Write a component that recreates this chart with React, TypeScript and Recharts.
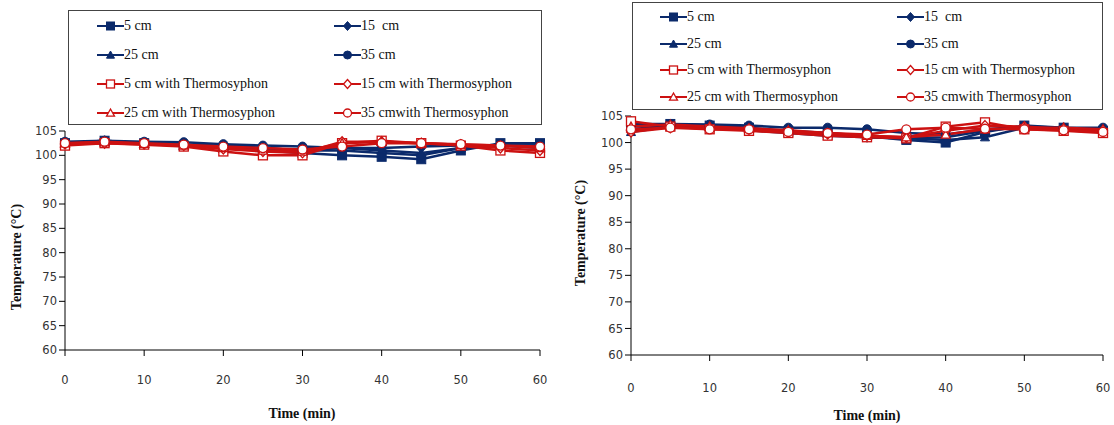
import React from "react";
import { LineChart, Line, XAxis, YAxis, Legend } from "recharts";

const NAVY = "#0b2a6b";
const RED = "#cc1111";

const TIME = [0, 5, 10, 15, 20, 25, 30, 35, 40, 45, 50, 55, 60];
const X_TICKS = [0, 10, 20, 30, 40, 50, 60];
const Y_TICKS = [60, 65, 70, 75, 80, 85, 90, 95, 100, 105];

// left panel
const L_5 = [102.5, 103, 102.5, 102, 101.5, 101, 100.5, 100, 99.7, 99.2, 101, 102.5, 102.5];
const L_15 = [102.5, 103, 102.5, 102, 101.8, 101.5, 101, 101, 100.5, 100, 101.5, 102, 102];
const L_25 = [102.5, 102.8, 102.5, 102.2, 102, 101.5, 101, 101.5, 101, 100.5, 101.5, 102, 101.5];
const L_35 = [102.8, 103, 102.8, 102.7, 102.3, 102, 101.8, 101.5, 101.5, 101.8, 102, 102, 102];
const L_5T = [102, 102.5, 102.2, 101.8, 100.8, 100, 100, 102.5, 103, 102.5, 102, 101, 100.5];
const L_15T = [102.3, 102.5, 102.3, 102, 101.3, 100.8, 100.5, 102.8, 102.8, 102.5, 102.2, 101.5, 101];
const L_25T = [102.5, 102.7, 102.4, 102, 101.5, 101, 100.8, 102.5, 102.8, 102.5, 102.2, 102, 101.5];
const L_35T = [102.5, 102.8, 102.5, 102.2, 101.8, 101.5, 101.2, 101.8, 102.5, 102.5, 102.3, 102, 101.8];

// right panel
const R_5 = [103, 103.5, 103.2, 102.8, 102.2, 101.8, 101.2, 100.5, 100, 102, 103.2, 102.8, 102.2];
const R_15 = [102.5, 103.2, 103, 102.5, 102, 101.5, 101, 100.8, 101, 102.2, 103, 102.6, 102];
const R_25 = [102, 103, 102.8, 102.3, 101.8, 101.3, 101, 100.8, 100.5, 101, 102.8, 102.5, 102.3];
const R_35 = [103.5, 103.5, 103.4, 103.2, 102.8, 102.8, 102.5, 101.8, 101.5, 102.5, 103, 102.8, 102.8];
const R_5T = [104, 103, 102.5, 102.2, 101.8, 101.3, 101, 100.8, 103, 103.8, 102.5, 102.2, 101.8];
const R_15T = [102, 102.8, 102.8, 102.5, 102, 101.6, 101.3, 101, 102.2, 103.2, 103, 102.5, 102.2];
const R_25T = [103, 103.4, 103, 102.7, 102.3, 101.8, 101.3, 101, 101.5, 102.5, 102.8, 102.8, 102.5];
const R_35T = [102.5, 102.8, 102.5, 102.5, 102, 101.8, 101.5, 102.5, 102.8, 102.6, 102.5, 102.3, 102];

type Shape = "square" | "diamond" | "triangle" | "circle";

const SERIES: { key: string; name: string; shape: Shape; color: string; filled: boolean }[] = [
  { key: "s5", name: "5 cm", shape: "square", color: NAVY, filled: true },
  { key: "s15", name: "15  cm", shape: "diamond", color: NAVY, filled: true },
  { key: "s25", name: "25 cm", shape: "triangle", color: NAVY, filled: true },
  { key: "s35", name: "35 cm", shape: "circle", color: NAVY, filled: true },
  { key: "t5", name: "5 cm with Thermosyphon", shape: "square", color: RED, filled: false },
  { key: "t15", name: "15 cm with Thermosyphon", shape: "diamond", color: RED, filled: false },
  { key: "t25", name: "25 cm with Thermosyphon", shape: "triangle", color: RED, filled: false },
  { key: "t35", name: "35 cmwith Thermosyphon", shape: "circle", color: RED, filled: false },
];

const makeRows = (cols: number[][]) =>
  TIME.map((t, i) => {
    const row: Record<string, number> = { t };
    SERIES.forEach((s, j) => (row[s.key] = cols[j][i]));
    return row;
  });

const LEFT_ROWS = makeRows([L_5, L_15, L_25, L_35, L_5T, L_15T, L_25T, L_35T]);
const RIGHT_ROWS = makeRows([R_5, R_15, R_25, R_35, R_5T, R_15T, R_25T, R_35T]);

function Marker({ cx, cy, shape, color, filled, r = 4.5 }: any) {
  const fill = filled ? color : "#fff";
  const sw = filled ? 1 : 1.3;
  if (shape === "square")
    return <rect x={cx - r} y={cy - r} width={2 * r} height={2 * r} fill={fill} stroke={color} strokeWidth={sw} />;
  if (shape === "diamond")
    return (
      <polygon
        points={`${cx},${cy - r - 0.5} ${cx + r},${cy} ${cx},${cy + r + 0.5} ${cx - r},${cy}`}
        fill={fill}
        stroke={color}
        strokeWidth={sw}
      />
    );
  if (shape === "triangle")
    return (
      <polygon
        points={`${cx},${cy - r} ${cx + r},${cy + r * 0.8} ${cx - r},${cy + r * 0.8}`}
        fill={fill}
        stroke={color}
        strokeWidth={sw}
      />
    );
  return <circle cx={cx} cy={cy} r={r} fill={fill} stroke={color} strokeWidth={sw} />;
}

function LegendBox({ colX, rowY, pitch, width, height }: any) {
  return (
    <div
      style={{
        position: "relative",
        width,
        height,
        border: "1px solid #444",
        background: "#fff",
        boxSizing: "border-box",
        fontFamily: "'Liberation Serif', 'Times New Roman', serif",
        fontSize: 14,
        color: "#111",
      }}
    >
      {SERIES.map((s, i) => (
        <div
          key={s.key}
          style={{
            position: "absolute",
            left: colX[i % 2],
            top: rowY + Math.floor(i / 2) * pitch - 8,
            height: 16,
            display: "flex",
            alignItems: "center",
            whiteSpace: "pre",
          }}
        >
          <svg width={27} height={14} style={{ display: "block" }}>
            <line x1={0} y1={7} x2={27} y2={7} stroke={s.color} strokeWidth={2} />
            <Marker cx={13.5} cy={7} shape={s.shape} color={s.color} filled={s.filled} r={4} />
          </svg>
          <span>{s.name}</span>
        </div>
      ))}
    </div>
  );
}

function Panel({ rows, width, margin, legend, yLabel, xLabel, tickGap }: any) {
  const axisFont = { fontSize: 11.5, fill: "#333", fontFamily: "Tahoma, 'DejaVu Sans', sans-serif" };
  const titleProps = {
    fontFamily: "'Liberation Serif', 'Times New Roman', serif",
    fontWeight: "bold",
    fontSize: 14,
    fill: "#111",
  };
  return (
    <LineChart width={width} height={425} data={rows} margin={margin}>
      <XAxis
        type="number"
        dataKey="t"
        domain={[0, 60]}
        ticks={X_TICKS}
        tick={axisFont}
        tickSize={6}
        tickMargin={tickGap}
        axisLine={{ stroke: "#000" }}
        tickLine={{ stroke: "#000" }}
        height={30}
        label={{
          content: () => (
            <text x={xLabel.x} y={xLabel.y} textAnchor="middle" {...titleProps}>
              Time (min)
            </text>
          ),
        }}
      />
      <YAxis
        domain={[60, 105]}
        ticks={Y_TICKS}
        tick={axisFont}
        tickSize={6}
        tickMargin={2}
        width={40}
        axisLine={{ stroke: "#000" }}
        tickLine={{ stroke: "#000" }}
        label={{
          content: () => (
            <text
              x={yLabel.x}
              y={yLabel.y}
              transform={`rotate(-90 ${yLabel.x} ${yLabel.y})`}
              textAnchor="middle"
              {...titleProps}
            >
              Temperature (°C)
            </text>
          ),
        }}
      />
      <Legend
        layout="vertical"
        align="center"
        verticalAlign="middle"
        wrapperStyle={{ left: legend.left, top: legend.top, width: legend.width }}
        content={() => <LegendBox {...legend} />}
      />
      {SERIES.map((s) => (
        <Line
          key={s.key}
          dataKey={s.key}
          name={s.name}
          stroke={s.color}
          strokeWidth={2.5}
          isAnimationActive={false}
          dot={(p: any) => (
            <Marker key={`${s.key}-${p.index}`} cx={p.cx} cy={p.cy} shape={s.shape} color={s.color} filled={s.filled} />
          )}
          activeDot={false}
        />
      ))}
    </LineChart>
  );
}

export default function App() {
  return (
    <div style={{ position: "absolute", left: 0, top: 0, width: 1114, height: 425, background: "#fff" }}>
      <div style={{ position: "absolute", left: 0, top: 0 }}>
        <Panel
          rows={LEFT_ROWS}
          width={560}
          margin={{ top: 131, right: 20, bottom: 45, left: 25 }}
          tickGap={20}
          xLabel={{ x: 302, y: 418 }}
          yLabel={{ x: 21, y: 257 }}
          legend={{ left: 68, top: 10, width: 474, height: 115, colX: [28, 265], rowY: 15, pitch: 29 }}
        />
      </div>
      <div style={{ position: "absolute", left: 560, top: 0 }}>
        <Panel
          rows={RIGHT_ROWS}
          width={554}
          margin={{ top: 116, right: 11, bottom: 40, left: 31 }}
          tickGap={23}
          xLabel={{ x: 307, y: 420 }}
          yLabel={{ x: 25, y: 233 }}
          legend={{ left: 72, top: 2, width: 471, height: 108, colX: [27, 264], rowY: 14, pitch: 26.5 }}
        />
      </div>
    </div>
  );
}
